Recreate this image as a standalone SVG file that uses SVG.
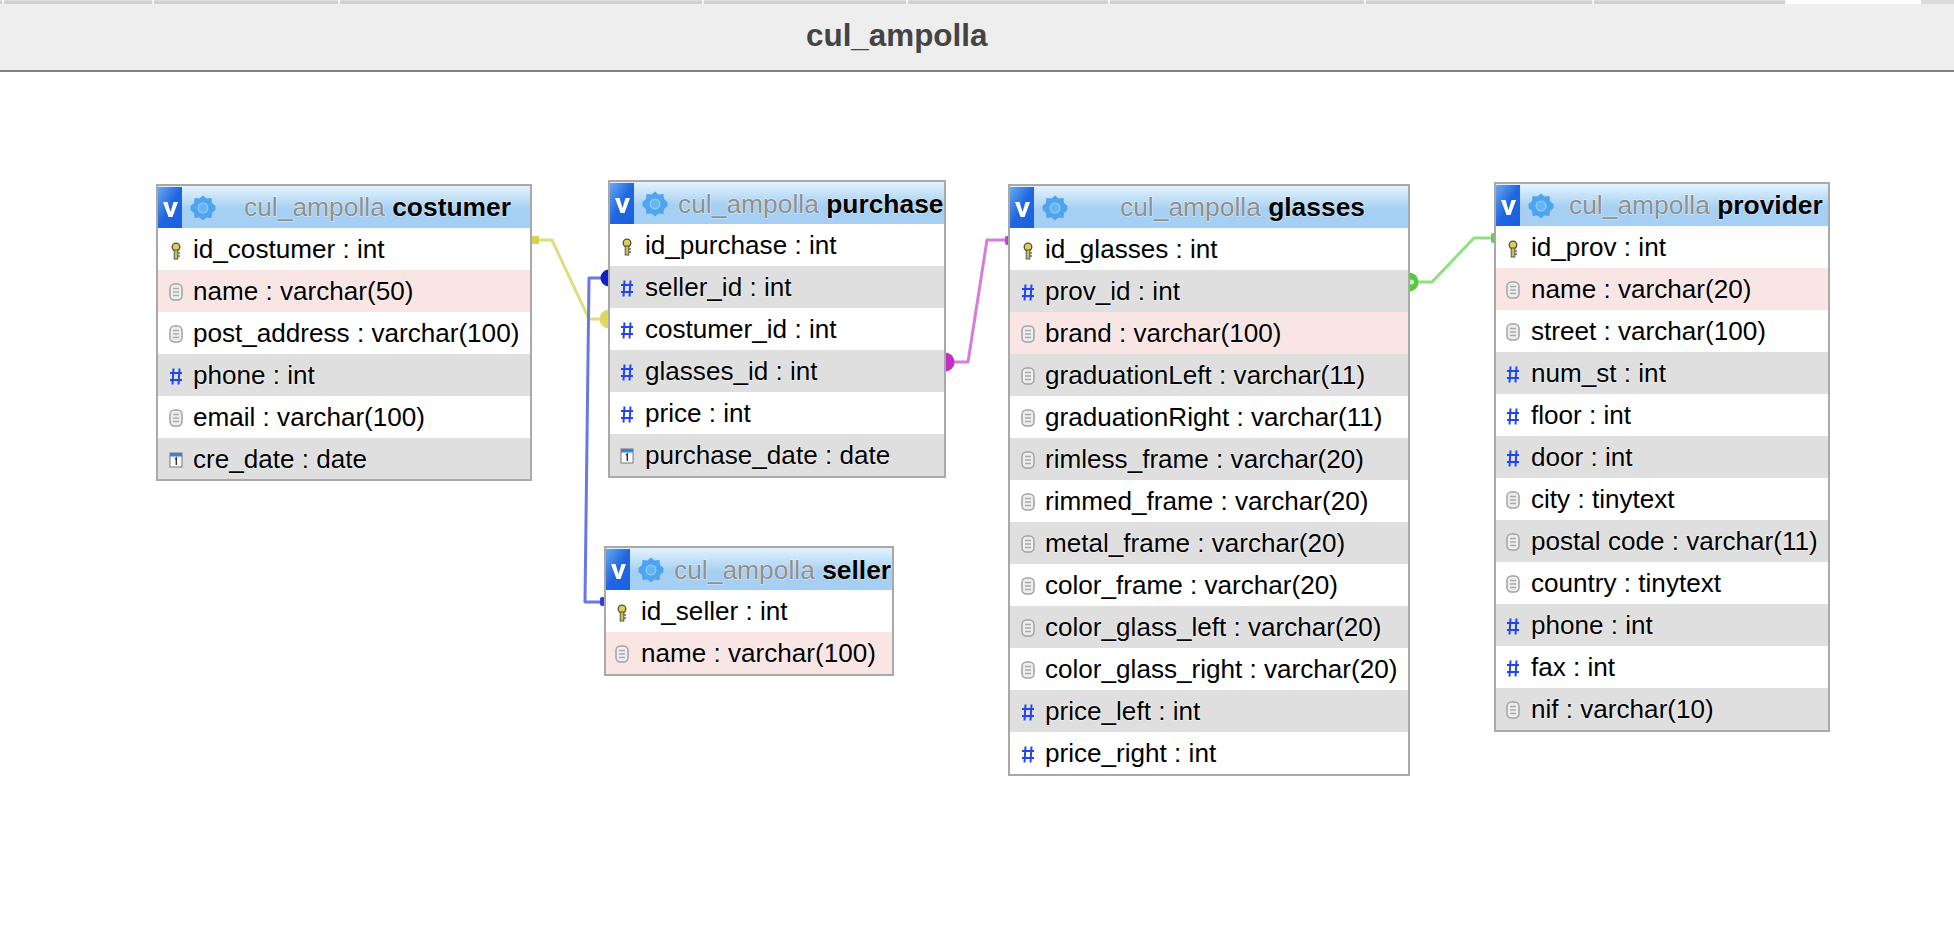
<svg xmlns="http://www.w3.org/2000/svg" width="1954" height="938" viewBox="0 0 1954 938">
<style>
text{font-family:"Liberation Sans",Arial,sans-serif;font-size:26.1px;fill:#000;paint-order:stroke;stroke:#fff;stroke-width:1.2px;stroke-opacity:.6}
.title{font-size:31.4px;font-weight:bold;fill:#444;stroke:none}
.db{fill:#8f8f8f;font-size:26.400px}
.tn{font-weight:bold;fill:#000}
.box{fill:#fff;stroke:#a9a9a9;stroke-width:2}
.even{fill:#dfdfdf}
.pink{fill:#fae5e5}
.conn{fill:none;stroke-width:3;stroke-linejoin:round}
</style>
<defs>
<linearGradient id="hg" x1="0" y1="0" x2="0" y2="1"><stop offset="0" stop-color="#e4f3fe"/><stop offset=".55" stop-color="#a6d0f3"/><stop offset="1" stop-color="#a6d0f3"/></linearGradient>
<linearGradient id="vg" x1="0" y1="0" x2="1" y2="1"><stop offset="0" stop-color="#6aa8f0"/><stop offset=".5" stop-color="#2066e0"/><stop offset="1" stop-color="#1b5fe0"/></linearGradient>
<g id="head">
<rect x="0" y="0" width="24" height="41" fill="url(#vg)"/>
<path d="M5 15h4.500l3 10 3-10h4.500l-5.500 15h-4z" fill="#fff"/>
<g transform="translate(45,21)"><path d="M0-12.500l3.500 3 5-.5.5 5 3.500 3-.0 4-3.500 3-.5 5-5-.5-3.500 3-3.500-3-5 .5-.5-5-3.500-3 0-4 3.500-3 .5-5 5 .5z" fill="#4ea4ef"/><circle r="5.500" fill="#8ccbf8"/><circle r="4" fill="#62b6f6"/></g>
</g>
<g id="key"><circle cx="0" cy="-4" r="3.800" fill="#d9cf5e" stroke="#55502a" stroke-width="1.300"/><rect x="-1.800" y="-1" width="3.600" height="9" fill="#c9bf55" stroke="#555" stroke-width="1"/><path d="M2 2h2M2 5h2" stroke="#666" stroke-width="1.300"/></g>
<g id="txt"><rect x="-6" y="-8" width="12" height="16" rx="4.500" fill="#eee" stroke="#a3a3a3" stroke-width="1.500"/><path d="M-3-3.500h6M-3 0h6M-3 3.500h6" stroke="#aaa" stroke-width="1.300"/></g>
<g id="num"><path d="M-2.500-7.500l-1 16M3.500-7.500l-1 16M-6-3h12M-6 4h12" stroke="#2146f0" stroke-width="2" fill="none"/></g>
<g id="date"><rect x="-6" y="-7" width="12" height="14" fill="#fff" stroke="#777" stroke-width="1"/><rect x="-6" y="-7" width="12" height="3.500" fill="#3f7fe0"/><path d="M-1-1l1.300-1v7" stroke="#333" stroke-width="1.400" fill="none"/></g>
</defs>

<rect width="1954" height="938" fill="#fff"/>
<g id="tabbar">
<rect y="0" width="1954" height="71" fill="#eeeeee"/>
<rect y="0" width="1786" height="4" fill="#cfcfcf"/>
<rect y="0" width="1786" height="1.500" fill="#dcdcdc"/>
<rect x="1786" y="0" width="135" height="4" fill="#fff"/>
<rect x="1921" y="0" width="33" height="4" fill="#dcdcdc"/>
<path d="M3 0v4M153 0v4M339 0v4M703 0v4M907 0v4M1109 0v4M1365 0v4M1593 0v4M1786 0v4" stroke="#fff" stroke-width="1.500"/>
<rect y="70" width="1954" height="2" fill="#808080"/>
<text class="title" x="806" y="46">cul_ampolla</text>
</g>

<g id="connectors">
<path class="conn" stroke="#e0dc80" d="M531 240H552L589 319H609"/>
<path class="conn" stroke="#6878e6" d="M609 278H589L585 602H604"/>
<path class="conn" stroke="#d67cdc" d="M945 362H968L987 240H1009"/>
<path class="conn" stroke="#90e082" d="M1409 282H1432L1474 238H1495"/>
<rect x="531" y="236" width="8" height="8" fill="#d8d050"/>
<circle cx="609" cy="278" r="8.500" fill="#1020c8"/>
<circle cx="609" cy="319" r="9.500" fill="#dcd860"/>
<rect x="600" y="597" width="5" height="9" rx="2" fill="#3040e0"/>
<circle cx="945" cy="362" r="9.500" fill="#c030c8"/>
<rect x="1005" y="236" width="5" height="9" rx="2" fill="#c040d0"/>
<circle cx="1409" cy="282" r="9.500" fill="#58c840"/><circle cx="1411.500" cy="282" r="2.500" fill="#cfeec8"/>
<rect x="1491" y="233" width="5" height="10" rx="2" fill="#60d050"/>
</g>

<g id="table-costumer">
<rect class="box" x="157" y="185" width="374" height="295"/>
<rect x="158" y="186" width="372" height="42" fill="url(#hg)"/>
<use href="#head" x="158" y="187"/>
<text x="244" y="216" class="db">cul_ampolla <tspan class="tn">costumer</tspan></text>
<rect class="pink" x="158" y="270" width="372" height="42"/>
<rect class="even" x="158" y="354" width="372" height="42"/>
<rect class="even" x="158" y="438" width="372" height="41"/>
<use href="#key" x="176" y="251"/><text x="193" y="258">id_costumer : int</text>
<use href="#txt" x="176" y="292"/><text x="193" y="300">name : varchar(50)</text>
<use href="#txt" x="176" y="334"/><text x="193" y="342">post_address : varchar(100)</text>
<use href="#num" x="176" y="376"/><text x="193" y="384">phone : int</text>
<use href="#txt" x="176" y="418"/><text x="193" y="426">email : varchar(100)</text>
<use href="#date" x="176" y="460"/><text x="193" y="468">cre_date : date</text>
</g>

<g id="table-purchase">
<rect class="box" x="609" y="181" width="336" height="296"/>
<rect x="610" y="182" width="334" height="42" fill="url(#hg)"/>
<use href="#head" x="610" y="183"/>
<text x="678" y="213" class="db">cul_ampolla <tspan class="tn">purchase</tspan></text>
<rect class="even" x="610" y="266" width="334" height="42"/>
<rect class="even" x="610" y="350" width="334" height="42"/>
<rect class="even" x="610" y="434" width="334" height="42"/>
<use href="#key" x="627" y="247"/><text x="645" y="254">id_purchase : int</text>
<use href="#num" x="627" y="288"/><text x="645" y="296">seller_id : int</text>
<use href="#num" x="627" y="330"/><text x="645" y="338">costumer_id : int</text>
<use href="#num" x="627" y="372"/><text x="645" y="380">glasses_id : int</text>
<use href="#num" x="627" y="414"/><text x="645" y="422">price : int</text>
<use href="#date" x="627" y="456"/><text x="645" y="464">purchase_date : date</text>
</g>

<g id="table-glasses">
<rect class="box" x="1009" y="185" width="400" height="590"/>
<rect x="1010" y="186" width="398" height="42" fill="url(#hg)"/>
<use href="#head" x="1010" y="187"/>
<text x="1120" y="216" class="db">cul_ampolla <tspan class="tn">glasses</tspan></text>
<rect class="even" x="1010" y="270" width="398" height="42"/>
<rect class="pink" x="1010" y="312" width="398" height="42"/>
<rect class="even" x="1010" y="354" width="398" height="42"/>
<rect class="even" x="1010" y="438" width="398" height="42"/>
<rect class="even" x="1010" y="522" width="398" height="42"/>
<rect class="even" x="1010" y="606" width="398" height="42"/>
<rect class="even" x="1010" y="690" width="398" height="42"/>
<use href="#key" x="1028" y="251"/><text x="1045" y="258">id_glasses : int</text>
<use href="#num" x="1028" y="292"/><text x="1045" y="300">prov_id : int</text>
<use href="#txt" x="1028" y="334"/><text x="1045" y="342">brand : varchar(100)</text>
<use href="#txt" x="1028" y="376"/><text x="1045" y="384">graduationLeft : varchar(11)</text>
<use href="#txt" x="1028" y="418"/><text x="1045" y="426">graduationRight : varchar(11)</text>
<use href="#txt" x="1028" y="460"/><text x="1045" y="468">rimless_frame : varchar(20)</text>
<use href="#txt" x="1028" y="502"/><text x="1045" y="510">rimmed_frame : varchar(20)</text>
<use href="#txt" x="1028" y="544"/><text x="1045" y="552">metal_frame : varchar(20)</text>
<use href="#txt" x="1028" y="586"/><text x="1045" y="594">color_frame : varchar(20)</text>
<use href="#txt" x="1028" y="628"/><text x="1045" y="636">color_glass_left : varchar(20)</text>
<use href="#txt" x="1028" y="670"/><text x="1045" y="678">color_glass_right : varchar(20)</text>
<use href="#num" x="1028" y="712"/><text x="1045" y="720">price_left : int</text>
<use href="#num" x="1028" y="754"/><text x="1045" y="762">price_right : int</text>
</g>

<g id="table-provider">
<rect class="box" x="1495" y="183" width="334" height="548"/>
<rect x="1496" y="184" width="332" height="42" fill="url(#hg)"/>
<use href="#head" x="1496" y="185"/>
<text x="1569" y="214" class="db">cul_ampolla <tspan class="tn">provider</tspan></text>
<rect class="pink" x="1496" y="268" width="332" height="42"/>
<rect class="even" x="1496" y="352" width="332" height="42"/>
<rect class="even" x="1496" y="436" width="332" height="42"/>
<rect class="even" x="1496" y="520" width="332" height="42"/>
<rect class="even" x="1496" y="604" width="332" height="42"/>
<rect class="even" x="1496" y="688" width="332" height="42"/>
<use href="#key" x="1513" y="249"/><text x="1531" y="256">id_prov : int</text>
<use href="#txt" x="1513" y="290"/><text x="1531" y="298">name : varchar(20)</text>
<use href="#txt" x="1513" y="332"/><text x="1531" y="340">street : varchar(100)</text>
<use href="#num" x="1513" y="374"/><text x="1531" y="382">num_st : int</text>
<use href="#num" x="1513" y="416"/><text x="1531" y="424">floor : int</text>
<use href="#num" x="1513" y="458"/><text x="1531" y="466">door : int</text>
<use href="#txt" x="1513" y="500"/><text x="1531" y="508">city : tinytext</text>
<use href="#txt" x="1513" y="542"/><text x="1531" y="550">postal code : varchar(11)</text>
<use href="#txt" x="1513" y="584"/><text x="1531" y="592">country : tinytext</text>
<use href="#num" x="1513" y="626"/><text x="1531" y="634">phone : int</text>
<use href="#num" x="1513" y="668"/><text x="1531" y="676">fax : int</text>
<use href="#txt" x="1513" y="710"/><text x="1531" y="718">nif : varchar(10)</text>
</g>

<g id="table-seller">
<rect class="box" x="605" y="547" width="288" height="128"/>
<rect x="606" y="548" width="286" height="42" fill="url(#hg)"/>
<use href="#head" x="606" y="549"/>
<text x="674" y="579" class="db">cul_ampolla <tspan class="tn">seller</tspan></text>
<rect class="pink" x="606" y="632" width="286" height="42"/>
<use href="#key" x="622" y="613"/><text x="641" y="620">id_seller : int</text>
<use href="#txt" x="622" y="654"/><text x="641" y="662">name : varchar(100)</text>
</g>
</svg>
